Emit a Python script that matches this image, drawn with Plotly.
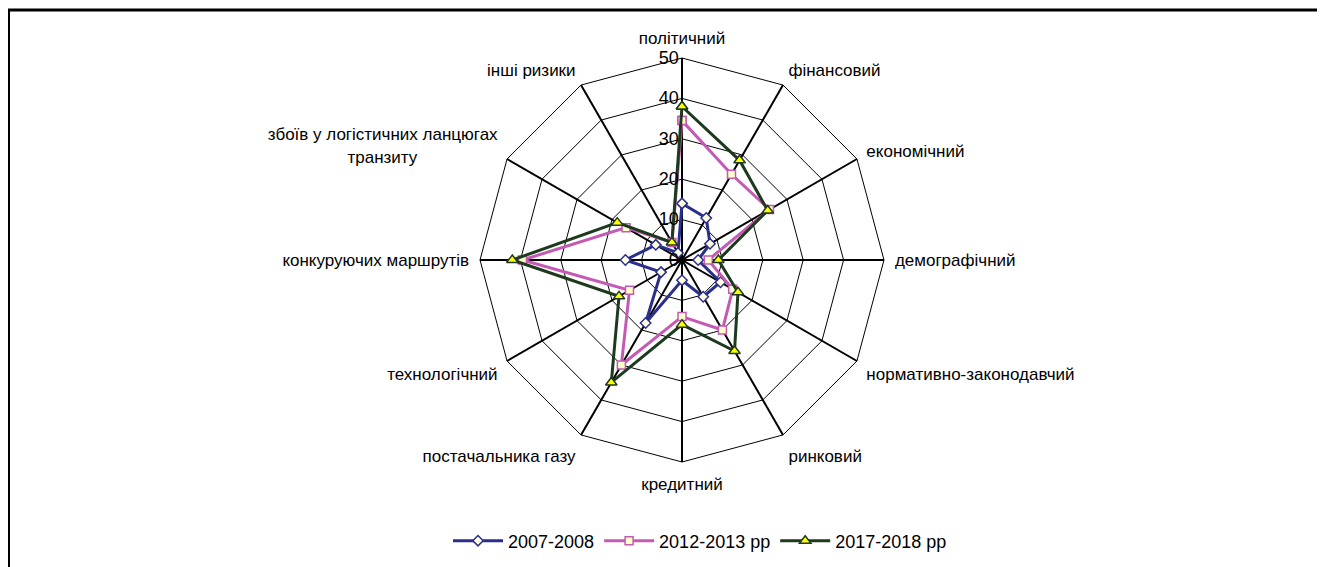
import plotly.graph_objects as go

categories = ["політичний", "фінансовий", "економічний", "демографічний",
              "нормативно-законодавчий", "ринковий", "кредитний",
              "постачальника газу", "технологічний", "конкуруючих маршрутів",
              "збоїв у логістичних ланцюгах<br>транзиту" + "\u00a0" * 17,
              "інші ризики"]

v_2007 = [14, 12, 8, 4, 11, 10.5, 5, 18, 6, 14, 7.5, 2]
v_2012 = [34.5, 24.5, 25, 6.5, 14.5, 20, 14, 30, 15, 39.5, 16, 5]
v_2017 = [38, 28.5, 24.5, 9, 16, 26, 16, 35, 18, 42, 18.5, 5]

series = [
    ("2007-2008", v_2007, "#2B2F8C", "diamond", "#FFFFDD", 8),
    ("2012-2013 рр", v_2012, "#C45AB3", "square", "#FFFFCC", 8),
    ("2017-2018 рр", v_2017, "#1E3A1E", "triangle-up", "#FFFF00", 10),
]

fig = go.Figure()
for name, vals, col, sym, fill, size in series:
    fig.add_trace(go.Scatterpolar(
        r=vals + vals[:1], theta=categories + categories[:1],
        mode="lines+markers", name=name,
        line=dict(color=col, width=3),
        marker=dict(symbol=sym, size=size, color=fill,
                    line=dict(color=col, width=1.5)),
    ))

# page body has an 8px offset, so positions are shifted by -8
W, H = 1325, 567
cx, cy, rad = 682 - 8, 260 - 8, 202

fig.update_layout(
    width=W, height=H,
    margin=dict(l=0, r=0, t=0, b=0),
    paper_bgcolor="white",
    font=dict(family="Liberation Sans, Arial", size=18, color="black"),
    polar=dict(
        domain=dict(x=[(cx - rad) / W, (cx + rad) / W],
                    y=[(H - cy - rad) / H, (H - cy + rad) / H]),
        bgcolor="white",
        gridshape="linear",
        radialaxis=dict(range=[0, 50], dtick=10, angle=90, tickangle=90,
                        side="counterclockwise", showline=False, ticks="",
                        gridcolor="black", gridwidth=0.8,
                        tickfont=dict(size=18)),
        angularaxis=dict(direction="clockwise", rotation=90,
                         gridcolor="black", gridwidth=1.5,
                         linecolor="black", linewidth=1,
                         ticks="outside", ticklen=7, tickcolor="rgba(0,0,0,0)",
                         tickfont=dict(size=17)),
    ),
    legend=dict(orientation="h", x=(700 - 8) / W, xanchor="center",
                y=(H - 533) / H, yanchor="middle", itemwidth=50,
                font=dict(size=18)),
    shapes=[
        dict(type="line", xref="paper", yref="paper", x0=0, x1=1,
             y0=1 - 2 / H, y1=1 - 2 / H, line=dict(color="black", width=3)),
        dict(type="line", xref="paper", yref="paper", x0=0.5 / W, x1=0.5 / W,
             y0=0, y1=1 - 2 / H, line=dict(color="black", width=3)),
    ],
)

fig.write_html("out.html")
